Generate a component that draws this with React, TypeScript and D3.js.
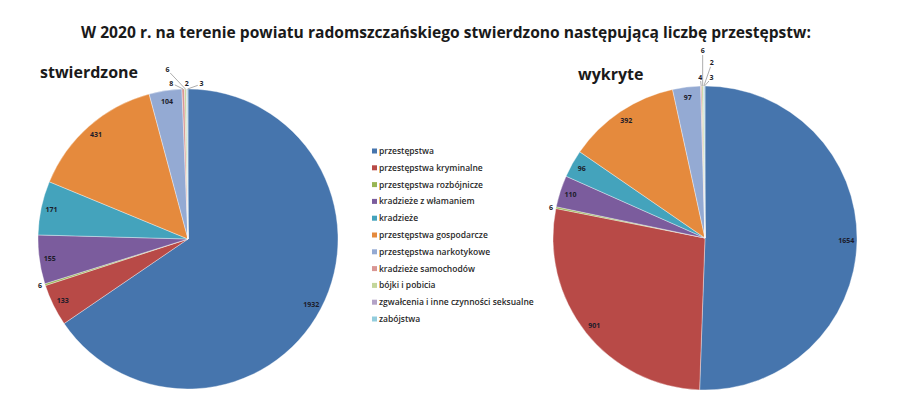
import React from "react";
import * as d3 from "d3";

const categories = [
  "przestępstwa",
  "przestępstwa kryminalne",
  "przestępstwa rozbójnicze",
  "kradzieże z włamaniem",
  "kradzieże",
  "przestępstwa gospodarcze",
  "przestępstwa narkotykowe",
  "kradzieże samochodów",
  "bójki i pobicia",
  "zgwałcenia i inne czynności seksualne",
  "zabójstwa",
];

const stwierdzone = [1932, 133, 6, 155, 171, 431, 104, 8, 6, 2, 3];
const wykryte = [1654, 901, 6, 110, 96, 392, 97, 4, 6, 2, 3];

const colors = [
  "#4675AD",
  "#B84A47",
  "#98B654",
  "#7B5C9D",
  "#44A3BC",
  "#E58A3D",
  "#94AAD3",
  "#D99694",
  "#C3D69B",
  "#B3A2C7",
  "#93CDDD",
];

const title =
  "W 2020 r. na terenie powiatu radomszczańskiego stwierdzono następującą liczbę przestępstw:";

// label offsets (dx, dy) from the slice's outer point for tiny slices
const leftOffsets: Record<number, [number, number]> = {
  2: [-5, 1],
  7: [-12, -6],
  8: [-18, -19],
  9: [0, -5],
  10: [14, -5],
};
const rightOffsets: Record<number, [number, number]> = {
  2: [-5, 0],
  7: [-1, -9],
  8: [0, -35],
  9: [8, -23],
  10: [7, -8],
};

type PieProps = {
  values: number[];
  cx: number;
  cy: number;
  r: number;
  offsets: Record<number, [number, number]>;
};

function Pie({ values, cx, cy, r, offsets }: PieProps) {
  const pie = d3.pie<number>().sort(null).value((d) => d)(values);
  const arc = d3.arc<d3.PieArcDatum<number>>().innerRadius(0).outerRadius(r);
  return (
    <g transform={`translate(${cx},${cy})`}>
      {pie.map((p, i) => (
        <path
          key={i}
          d={arc(p) || ""}
          fill={colors[i]}
          stroke="#ffffff"
          strokeOpacity={0.6}
          strokeWidth={0.6}
        />
      ))}
      {pie.map((p, i) => {
        const mid = (p.startAngle + p.endAngle) / 2;
        const off = offsets[i];
        if (!off) {
          const d = r * 0.93;
          const x = Math.sin(mid) * d;
          const y = -Math.cos(mid) * d;
          return (
            <text
              key={"l" + i}
              x={x}
              y={y}
              dy="0.35em"
              textAnchor="middle"
              fontSize={7}
              fontWeight={700}
              fill="#1c1c2a"
              fontFamily="'Open Sans', sans-serif"
            >
              {values[i]}
            </text>
          );
        }
        const ox = Math.sin(mid) * r;
        const oy = -Math.cos(mid) * r;
        const lx = ox + off[0];
        const ly = oy + off[1];
        const far = Math.hypot(off[0], off[1]) > 8;
        const ux = far ? off[0] / Math.hypot(off[0], off[1]) : 0;
        const uy = far ? off[1] / Math.hypot(off[0], off[1]) : 0;
        return (
          <g key={"l" + i}>
            {far && (
              <line
                x1={ox}
                y1={oy}
                x2={lx - ux * 4}
                y2={ly - uy * 4}
                stroke="#8a8a8a"
                strokeWidth={0.7}
              />
            )}
            <text
              x={lx}
              y={ly}
              dy="0.35em"
              textAnchor="middle"
              fontSize={7}
              fontWeight={700}
              fill="#1c1c2a"
              fontFamily="'Open Sans', sans-serif"
            >
              {values[i]}
            </text>
          </g>
        );
      })}
    </g>
  );
}

export default function App() {
  const legendX = 372;
  const legendY = 151;
  const legendStep = 16.8;
  return (
    <svg
      width={900}
      height={406}
      style={{ position: "absolute", left: 0, top: 0, background: "#ffffff" }}
    >
      <rect x={0} y={0} width={900} height={406} fill="#ffffff" />
      <text
        x={446}
        y={38}
        textAnchor="middle"
        fontSize={15.6}
        fontWeight={700}
        fill="#1a1a1a"
        fontFamily="'Open Sans', sans-serif"
      >
        {title}
      </text>
      <text
        x={40}
        y={78}
        fontSize={16}
        fontWeight={700}
        fill="#1a1a1a"
        fontFamily="'Open Sans', sans-serif"
      >
        stwierdzone
      </text>
      <text
        x={578}
        y={80}
        fontSize={16}
        fontWeight={700}
        fill="#1a1a1a"
        fontFamily="'Open Sans', sans-serif"
      >
        wykryte
      </text>
      <Pie values={stwierdzone} cx={188} cy={239} r={150} offsets={leftOffsets} />
      <Pie values={wykryte} cx={705} cy={238} r={152} offsets={rightOffsets} />
      <g>
        {categories.map((c, i) => (
          <g key={c} transform={`translate(${legendX},${legendY + i * legendStep})`}>
            <rect x={0} y={-2.5} width={5} height={5} fill={colors[i]} />
            <text
              x={7}
              y={0}
              dy="0.35em"
              fontSize={8.5}
              fontWeight={600}
              fill="#2a2a2a"
              fontFamily="'Open Sans', sans-serif"
            >
              {c}
            </text>
          </g>
        ))}
      </g>
    </svg>
  );
}
